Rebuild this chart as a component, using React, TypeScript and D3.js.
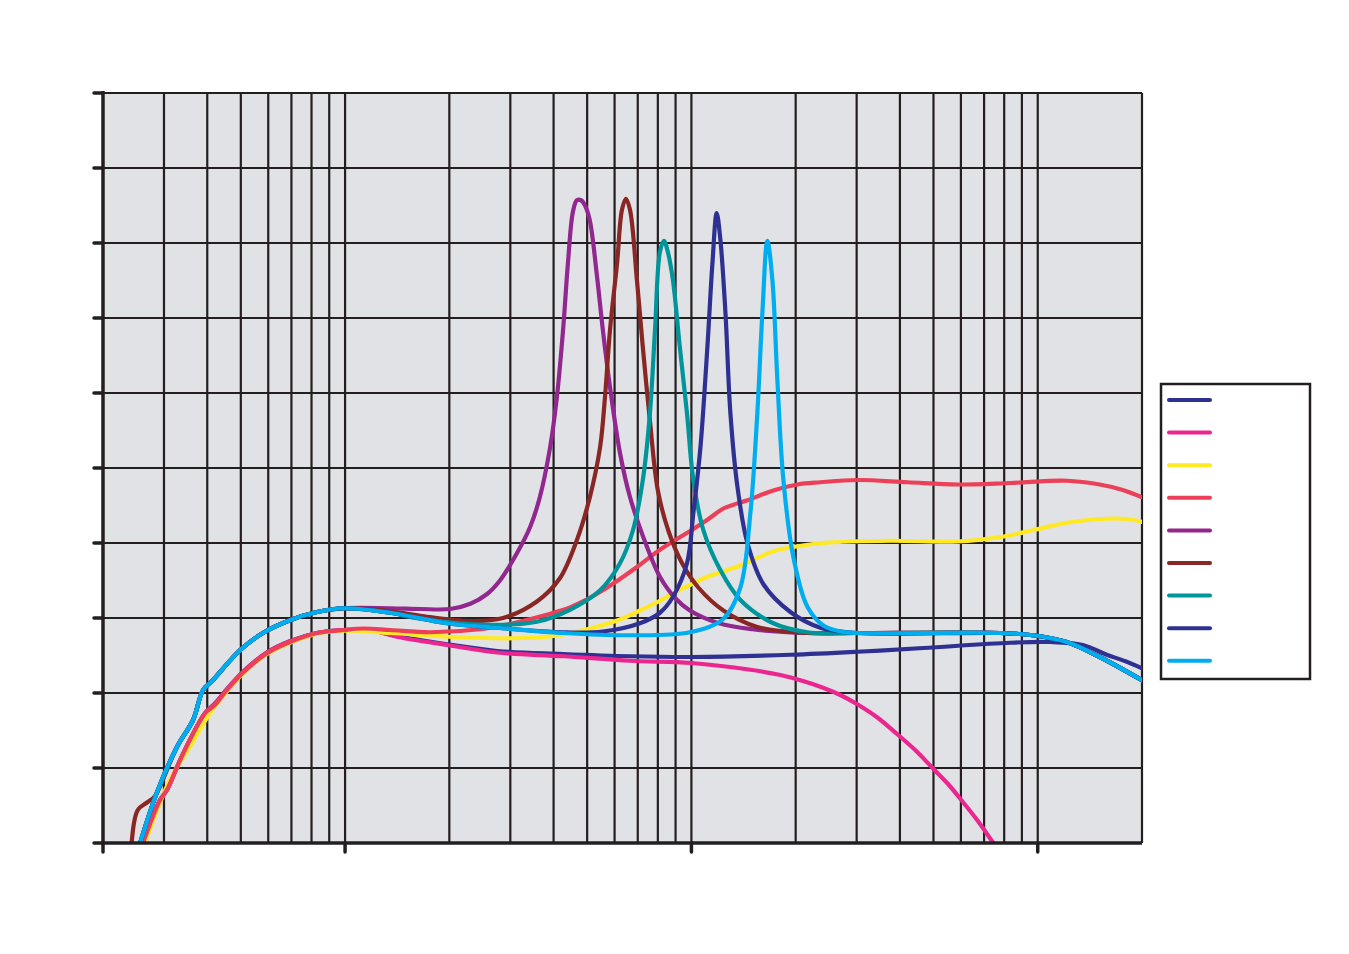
import React from "react";
import * as d3 from "d3";

// Frequency (Hz) / level (arbitrary units, 10 per grid step)
const navy1: [number, number][] = [
  [26.1, 0], [29.2, 5.7], [30.6, 7.1], [32.7, 10.1], [35.6, 13.7], [39.4, 17.3], [42.1, 18.6], [45.6, 20.5],
  [50.7, 22.8], [59.5, 25.4], [69.3, 26.9], [83, 28], [99, 28.4], [120, 28.3], [141, 27.6], [197, 26.5],
  [275, 25.6], [426, 25.2], [665, 24.9], [1000, 24.8], [1931, 25.1], [3013, 25.5], [4673, 26], [8328, 26.7],
  [10830, 26.8], [13485, 26.4], [15820, 25.1], [18000, 24.2], [20000, 23.3],
];
const pink: [number, number][] = [
  [26.1, 0], [29.2, 5.7], [30.6, 7.1], [32.7, 10.1], [35.6, 13.7], [39.4, 17.3], [42.1, 18.6], [45.6, 20.5],
  [50.7, 22.8], [59.5, 25.4], [69.3, 26.9], [83, 28], [99, 28.4], [120, 28.3], [141, 27.5], [197, 26.4],
  [275, 25.4], [426, 24.9], [665, 24.3], [1000, 24.0], [1480, 23.1], [1807, 22.4], [2100, 21.6], [2400, 20.7],
  [2700, 19.7], [3013, 18.5], [3450, 16.7], [3930, 14.5], [4450, 12.3], [4993, 9.9], [5500, 7.9], [5975, 5.9],
  [6700, 3.0], [7437, 0],
];
const yellow: [number, number][] = [
  [26.4, 0], [31.2, 8.4], [35.6, 12.8], [40.7, 17.3], [45.6, 20.2], [50.7, 22.6], [59.5, 25.2], [69.3, 26.7],
  [83, 27.9], [99, 28.3], [135, 28.0], [200, 27.5], [305, 27.3], [400, 27.6], [500, 28.5], [622, 29.8],
  [710, 31.0], [811, 32.3], [884, 33.3], [990, 34.4], [1112, 35.5], [1385, 37.0], [1724, 38.9], [1931, 39.4],
  [2404, 40.0], [3752, 40.3], [5858, 40.2], [7796, 40.8], [9673, 41.7], [12120, 42.7], [15100, 43.2],
  [18070, 43.2], [20000, 42.8],
];
const red: [number, number][] = [
  [26.1, 0], [29.2, 5.7], [30.6, 7.1], [32.7, 10.1], [35.6, 13.7], [39.4, 17.3], [42.1, 18.4], [45.6, 20.4],
  [50.7, 22.7], [59.5, 25.3], [69.3, 26.8], [83, 28], [99, 28.4], [113, 28.6], [135, 28.4], [176, 28.1],
  [245, 28.5], [305, 29.3], [380, 30.4], [446, 31.4], [500, 32.5], [555, 33.7], [622, 35.2], [696, 36.8],
  [811, 39.1], [884, 40.2], [1000, 41.7], [1112, 43.1], [1237, 44.6], [1322, 45.1], [1451, 45.7], [1724, 47.0],
  [2023, 47.8], [2357, 48.1], [3013, 48.4], [4202, 48.1], [5858, 47.8], [8328, 48.0], [12120, 48.3],
  [15100, 47.8], [17500, 47.1], [20000, 46.1],
];
const purple: [number, number][] = [
  [25.6, 0], [28.6, 6.7], [32.7, 12.8], [36.4, 16.4], [38.9, 20.4], [41.5, 21.7], [49.7, 25.7], [57.9, 28],
  [69.3, 29.7], [83, 30.8], [99, 31.3], [135, 31.3], [165, 31.2], [201, 31.2], [230, 31.9], [257, 33.2],
  [280, 35.0], [314, 38.7], [342, 42.1], [365, 46.1], [391, 52.8], [409, 59.5], [426, 68.4], [440, 77.3],
  [455, 84.2], [467, 85.7], [480, 85.7], [493, 85.0], [509, 83.0], [534, 75.5], [555, 68.4], [582, 60.8],
  [622, 52], [665, 46.1], [744, 39.5], [811, 35.5], [900, 32.6], [990, 31.0], [1200, 29.3], [1500, 28.5],
  [2162, 28], [3013, 28], [7796, 28], [9673, 27.7], [12120, 26.8], [15100, 24.8], [20000, 21.7],
];
const darkRed: [number, number][] = [
  [24.2, 0], [25.2, 4.4], [26.8, 5.4], [28.2, 6.2], [29.5, 8.0], [32.7, 12.8], [36.4, 16.4], [38.9, 20.4],
  [41.5, 21.7], [49.7, 25.7], [57.9, 28], [69.3, 29.7], [83, 30.8], [99, 31.3], [135, 30.9], [165, 30.3],
  [230, 29.6], [286, 30.0], [358, 32.2], [417, 35.3], [467, 40.4], [509, 46.1], [545, 52.8], [563, 59.5],
  [582, 68.4], [610, 77.3], [630, 84.4], [647, 85.9], [665, 84.4], [696, 75.1], [724, 66.1], [759, 56.3],
  [800, 47.0], [860, 41.5], [940, 37.3], [1050, 34.0], [1237, 31.0], [1550, 28.8], [2162, 28], [3013, 28],
  [7796, 28], [9673, 27.7], [12120, 26.8], [15100, 24.8], [20000, 21.7],
];
const teal: [number, number][] = [
  [25.6, 0], [28.6, 6.7], [32.7, 12.8], [36.4, 16.4], [38.9, 20.4], [41.5, 21.7], [49.7, 25.7], [57.9, 28],
  [69.3, 29.7], [83, 30.8], [99, 31.3], [135, 30.7], [165, 29.9], [257, 29.1], [358, 29.5], [446, 31.1],
  [545, 33.7], [622, 37.3], [678, 41.7], [724, 48.4], [759, 57.3], [785, 68.4], [811, 78.8], [833, 80.3],
  [855, 78.8], [884, 75.1], [926, 66.1], [971, 57.3], [1013, 48.4], [1083, 41.7], [1212, 36.4], [1385, 32.4],
  [1724, 29.3], [2162, 28.1], [3013, 28], [7796, 28], [9673, 27.7], [12120, 26.8], [15100, 24.8], [20000, 21.7],
];
const navy2: [number, number][] = [
  [25.6, 0], [28.6, 6.7], [32.7, 12.8], [36.4, 16.4], [38.9, 20.4], [41.5, 21.7], [49.7, 25.7], [57.9, 28],
  [69.3, 29.7], [83, 30.8], [99, 31.3], [135, 30.7], [197, 29.3], [275, 28.7], [426, 28.1], [555, 28.2],
  [710, 29.3], [811, 30.7], [884, 32.8], [971, 37.3], [1013, 44], [1062, 52.8], [1112, 66.1], [1150, 77.3],
  [1183, 84.0], [1212, 80.5], [1254, 70.7], [1296, 57.3], [1358, 47.5], [1451, 40.0], [1614, 34.5],
  [1931, 30.8], [2357, 28.7], [3013, 28], [7796, 28], [9673, 27.7], [12120, 26.8], [15100, 24.8], [20000, 21.7],
];
const cyan: [number, number][] = [
  [25.6, 0], [28.6, 6.7], [32.7, 12.8], [36.4, 16.4], [38.9, 20.4], [41.5, 21.7], [49.7, 25.7], [57.9, 28],
  [69.3, 29.7], [83, 30.8], [99, 31.3], [135, 30.7], [197, 29.3], [275, 28.7], [426, 28], [665, 27.7],
  [990, 28.1], [1237, 29.9], [1385, 34.1], [1480, 44], [1550, 57.3], [1603, 70.7], [1657, 80.3], [1713, 75.1],
  [1771, 61.7], [1843, 48.4], [1970, 38.1], [2162, 31.5], [2404, 29.0], [2700, 28.2], [3013, 28], [7796, 28],
  [9673, 27.7], [12120, 26.8], [15100, 24.8], [20000, 21.7],
];

const seriesList = [navy1, pink, yellow, red, purple, darkRed, teal, navy2, cyan];
const seriesColors = ["#2E3192", "#EC268F", "#FFE924", "#EC3F58", "#92278F", "#8A2623", "#00959A", "#2E3192", "#00AEEF"];
const seriesNames = ["", "", "", "", "", "", "", "", ""];

const xDomain: [number, number] = [20, 20000];
const yDomain: [number, number] = [0, 100];
const yTicks = [0, 10, 20, 30, 40, 50, 60, 70, 80, 90, 100];
const xMajorTicks = [20, 100, 1000, 10000];
const xGridTicks = [30, 40, 50, 60, 70, 80, 90, 100, 200, 300, 400, 500, 600, 700, 800, 900, 1000,
  2000, 3000, 4000, 5000, 6000, 7000, 8000, 9000, 10000, 20000];

export default function App() {
  const L = 103, R = 1142, T = 93, B = 843;
  const x = d3.scaleLog().domain(xDomain).range([L, R]);
  const y = d3.scaleLinear().domain(yDomain).range([B, T]);
  const line = d3
    .line<[number, number]>()
    .x((d) => x(d[0]))
    .y((d) => y(d[1]))
    .curve(d3.curveCatmullRom.alpha(0.5));
  const ink = "#231F20";

  const legX = 1161, legY = 384, legW = 149, legH = 295;
  const legStep = 32.6;

  return (
    <svg
      width={1349}
      height={954}
      style={{ position: "absolute", left: 0, top: 0, display: "block", background: "#fff" }}
    >
      <defs>
        <clipPath id="plotClip">
          <rect x={L} y={T - 2} width={R - L} height={B - T + 2} />
        </clipPath>
      </defs>
      <rect x={L} y={T} width={R - L} height={B - T} fill="#E1E2E6" />
      {yTicks.map((t) => (
        <line key={"gy" + t} x1={L} x2={R} y1={y(t)} y2={y(t)} stroke={ink} strokeWidth={2.2} />
      ))}
      {xGridTicks.map((t) => (
        <line key={"gx" + t} x1={x(t)} x2={x(t)} y1={T} y2={B} stroke={ink} strokeWidth={2.2} />
      ))}
      <g clipPath="url(#plotClip)">
        {seriesList.map((s, i) => (
          <path
            key={"s" + i}
            d={line(s) || ""}
            fill="none"
            stroke={seriesColors[i]}
            strokeWidth={4.2}
            strokeLinejoin="round"
            strokeLinecap="round"
          />
        ))}
      </g>
      {/* axes */}
      <line x1={L} x2={L} y1={T - 2} y2={B + 2} stroke={ink} strokeWidth={3.5} />
      <line x1={L - 2} x2={R} y1={B} y2={B} stroke={ink} strokeWidth={3.5} />
      {yTicks.map((t) => (
        <line key={"ty" + t} x1={L - 9} x2={L} y1={y(t)} y2={y(t)} stroke={ink} strokeWidth={3.5} strokeLinecap="round" />
      ))}
      {xMajorTicks.map((t) => (
        <line key={"tx" + t} x1={x(t)} x2={x(t)} y1={B} y2={B + 9} stroke={ink} strokeWidth={3.5} strokeLinecap="round" />
      ))}
      {/* legend */}
      <rect x={legX} y={legY} width={legW} height={legH} fill="#fff" stroke={ink} strokeWidth={2.5} />
      {seriesColors.map((c, i) => (
        <g key={"lg" + i}>
          <line
            x1={legX + 8}
            x2={legX + 49}
            y1={legY + 16 + i * legStep}
            y2={legY + 16 + i * legStep}
            stroke={c}
            strokeWidth={4}
            strokeLinecap="round"
          />
          <text x={legX + 58} y={legY + 20 + i * legStep} fontSize={12} fontFamily="Arial" fill={ink}>
            {seriesNames[i]}
          </text>
        </g>
      ))}
    </svg>
  );
}
